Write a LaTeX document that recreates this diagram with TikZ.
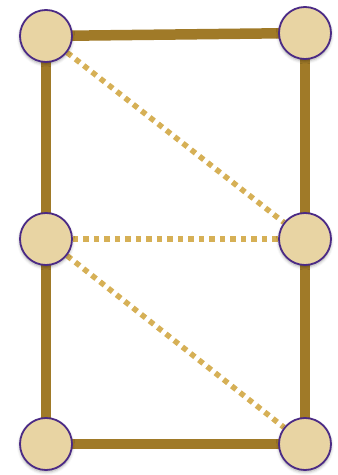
\documentclass[tikz,border=0pt]{standalone}
\usepackage{xcolor}
\usepackage{tikz}
\usetikzlibrary{backgrounds, shadows.blur}
\definecolor{vtxfill}{HTML}{E8D4A3}
\definecolor{vtxline}{HTML}{4B2A85}
\definecolor{edgebrown}{HTML}{A07A28}
\definecolor{edgegold}{HTML}{D6B056}

\begin{document}
\begin{tikzpicture}[x=1pt, y=1pt,
    vtx/.style={circle, draw=vtxline, line width=1.8pt, fill=vtxfill, minimum size=52pt, inner sep=0pt,
                blur shadow={shadow xshift=0pt, shadow yshift=-2pt, shadow blur radius=3pt, shadow opacity=35}},
    solidedge/.style={edgebrown, line width=10.5pt},
    dotedge/.style={edgegold, line width=5.5pt, dash pattern=on 5.5pt off 5pt}]
    \useasboundingbox (0,0) rectangle (338,475);

    \node[vtx] (tl) at (46,439) {};
    \node[vtx] (tr) at (305,442) {};
    \node[vtx] (ml) at (46,236) {};
    \node[vtx] (mr) at (305,236) {};
    \node[vtx] (bl) at (46,31) {};
    \node[vtx] (br) at (305,31) {};

    \begin{scope}[on background layer]
        \draw[solidedge] (tl.center) -- (tr.center);
        \draw[solidedge] (tl.center) -- (ml.center) -- (bl.center) -- (br.center) -- (mr.center) -- (tr.center);
        \draw[dotedge] (tl) -- (mr);
        \draw[dotedge] (ml) -- (mr);
        \draw[dotedge] (ml) -- (br);
    \end{scope}
\end{tikzpicture}
\end{document}
